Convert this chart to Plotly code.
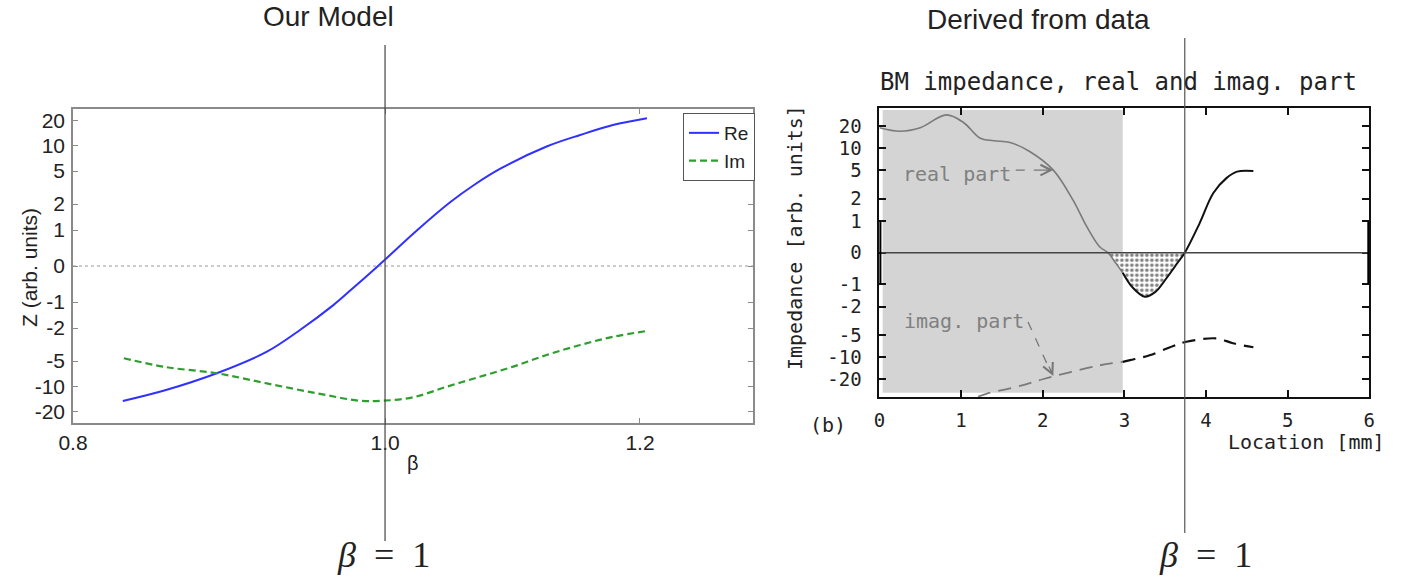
import numpy as np
import plotly.graph_objects as go

# ---------------- data: left panel "Our Model" ----------------
beta_re = [0.829, 0.855, 0.8866, 0.919, 0.941, 0.9637, 0.9758, 0.995, 1.0234, 1.0481,
           1.0657, 1.0863, 1.1225, 1.1497, 1.177, 1.206]
z_re = [-15.8, -11.4, -7.4, -4.15, -2.18, -1.12, -0.67, 0.0, 1.0, 2.2,
        3.73, 5.5, 9.8, 14.2, 18.2, 20.9]
beta_im = [0.8296, 0.855, 0.8866, 0.919, 0.9523, 0.9823, 0.9988, 1.0205, 1.045, 1.070,
           1.096, 1.1225, 1.1497, 1.177, 1.206]
z_im = [-4.75, -6.2, -7.4, -9.4, -12.7, -15.7, -15.7, -14.3, -10.1, -8.1,
        -6.1, -4.45, -3.55, -2.8, -2.27]

# ---------------- data: right panel "Derived from data" ----------------
loc_re = [0.00, 0.25, 0.50, 0.82, 1.03, 1.23, 1.40, 1.60, 1.84, 2.13, 2.37, 2.54, 2.70,
          2.80, 2.90, 2.98, 3.10, 3.25, 3.38, 3.52, 3.65, 3.74, 3.92, 4.09, 4.25, 4.38, 4.58]
imp_re = [19.3, 17.7, 19.3, 25.2, 21.7, 14.6, 13.3, 12.5, 9.2, 5.0, 1.95, 0.83, 0.18,
          0.0, -0.35, -0.64, -1.15, -1.56, -1.35, -0.80, -0.33, 0.0, 0.93, 2.6, 4.16, 4.84, 4.9]
loc_im = [1.21, 1.31, 1.72, 2.01, 2.33, 2.70, 2.98, 3.07, 3.31, 3.60, 3.76, 4.13, 4.33, 4.58]
imp_im = [-28.0, -26.7, -23.1, -19.9, -16.8, -13.6, -12.0, -11.2, -9.5, -7.4, -6.46, -5.7, -6.8, -7.7]

z_ticks = [-20, -10, -5, -2, -1, 0, 1, 2, 5, 10, 20]
z_tick_text = [str(v) for v in z_ticks]
beta_ticks = [0.8, 1.0, 1.2]
beta_tick_text = ["0.8", "1.0", "1.2"]
beta_range = [0.8, 1.301]
loc_ticks = [0, 1, 2, 3, 4, 5, 6]
loc_tick_text = [str(v) for v in loc_ticks]
beta_one = 1.0
beta_one_location = 3.74     # mm, where beta = 1 in the data panel
shaded_limit = 2.98          # mm, end of grey shaded region

# compressed (pseudo-log) impedance axis
_ABS = [0, 1, 2, 5, 10, 20]
_POS = [0, 36, 62, 95, 120.5, 145.5]


def zpos(z):
    z = np.asarray(z, dtype=float)
    a = np.abs(z)
    u = np.interp(a, _ABS, _POS)
    u = np.where(a > 20, 145.5 + (a - 20) * 2.5, u)
    return np.sign(z) * u


W, H = 1406, 582


def px(x):
    return x / W


def py(y):
    return 1 - y / H


SANS = "Arial, Liberation Sans, sans-serif"
MONO = "DejaVu Sans Mono, Liberation Mono, monospace"
SERIF = "Liberation Serif, DejaVu Serif, serif"

L_X0, L_X1 = px(73), px(753)

fig = go.Figure()

# ---- left panel traces ----
fig.add_trace(go.Scatter(x=beta_re, y=zpos(z_re), mode="lines", name="Re",
                         line=dict(color="#3030ff", width=2, shape="spline"),
                         xaxis="x", yaxis="y"))
fig.add_trace(go.Scatter(x=beta_im, y=zpos(z_im), mode="lines", name="Im",
                         line=dict(color="#2e9e2e", width=2.2, dash="7px,4px", shape="spline"),
                         xaxis="x", yaxis="y"))

# ---- right panel traces ----
lr = np.array(loc_re)
ir = np.array(imp_re)
li = np.array(loc_im)
ii = np.array(imp_im)

neg = (lr >= 2.80) & (lr <= beta_one_location)
fig.add_trace(go.Scatter(x=lr[neg], y=zpos(ir[neg]), mode="lines", fill="tozeroy",
                         line=dict(width=0, shape="spline"), fillcolor="white",
                         fillpattern=dict(shape=".", fgcolor="black", bgcolor="white",
                                          size=5, solidity=0.4),
                         showlegend=False, hoverinfo="skip", xaxis="x2", yaxis="y2"))
g = lr <= shaded_limit
b = lr >= shaded_limit
fig.add_trace(go.Scatter(x=lr[g], y=zpos(ir[g]), mode="lines",
                         line=dict(color="#7a7a7a", width=1.6, shape="spline"),
                         showlegend=False, xaxis="x2", yaxis="y2"))
fig.add_trace(go.Scatter(x=lr[b], y=zpos(ir[b]), mode="lines",
                         line=dict(color="#111111", width=2, shape="spline"),
                         showlegend=False, xaxis="x2", yaxis="y2"))
g = li <= shaded_limit
b = li >= shaded_limit
fig.add_trace(go.Scatter(x=li[g], y=zpos(ii[g]), mode="lines",
                         line=dict(color="#7a7a7a", width=1.8, dash="13px,8px", shape="spline"),
                         showlegend=False, xaxis="x2", yaxis="y2"))
fig.add_trace(go.Scatter(x=li[b], y=zpos(ii[b]), mode="lines",
                         line=dict(color="#111111", width=2.2, dash="13px,8px", shape="spline"),
                         showlegend=False, xaxis="x2", yaxis="y2"))

left_axis = dict(showline=True, linecolor="#8a8a8a", linewidth=1.5, mirror="ticks",
                 ticks="inside", ticklen=5, tickcolor="#8a8a8a", showgrid=False,
                 zeroline=False, automargin=False,
                 tickfont=dict(family=SANS, size=21, color="#222"))
right_axis = dict(showline=True, linecolor="#111", linewidth=2, mirror="ticks",
                  ticks="inside", ticklen=7, tickcolor="#111", tickwidth=1.5, showgrid=False,
                  zeroline=False, automargin=False,
                  tickfont=dict(family=MONO, size=19, color="#222"))

fig.update_layout(
    width=W, height=H, margin=dict(l=0, r=0, t=0, b=0, autoexpand=False),
    paper_bgcolor="white", plot_bgcolor="white",
    xaxis=dict(domain=[L_X0, L_X1], type="log",
               range=[np.log10(beta_range[0]), np.log10(beta_range[1])], tickvals=beta_ticks,
               ticktext=beta_tick_text, anchor="y", **left_axis),
    yaxis=dict(domain=[py(423), py(109)], range=[-157, 157], tickvals=zpos(z_ticks),
               ticktext=z_tick_text, anchor="x", ticklabelstandoff=2, **left_axis),
    xaxis2=dict(domain=[px(879.4), px(1369.3)], range=[0, 6], tickvals=loc_ticks,
                ticktext=loc_tick_text, anchor="y2", ticklabelstandoff=5, **right_axis),
    yaxis2=dict(domain=[py(397.3), py(107.7)], range=[-166.3, 166.75],
                tickvals=zpos(z_ticks), ticktext=z_tick_text, anchor="x2",
                ticklabelstandoff=12, **right_axis),
    legend=dict(x=px(683), y=py(113), xanchor="left", yanchor="top",
                bgcolor="white", bordercolor="#555", borderwidth=1,
                font=dict(family=SANS, size=19, color="#222"), itemwidth=30,
                tracegroupgap=0),
    showlegend=True,
)

# paper x of beta = 1 on the log axis
lo, hi = np.log10(beta_range[0]), np.log10(beta_range[1])
beta_one_paper = L_X0 + (np.log10(beta_one) - lo) / (hi - lo) * (L_X1 - L_X0)

shapes = []
# left zero dotted line
shapes.append(dict(type="line", xref="x domain", yref="y", x0=0, x1=1, y0=0, y1=0,
                   line=dict(color="#999", width=1, dash="dot")))
# right: grey shaded region
shapes.append(dict(type="rect", xref="x2", yref="y2", x0=0.04, x1=shaded_limit,
                   y0=-161, y1=164, fillcolor="#d4d4d4", line=dict(width=0), layer="below"))
# right zero line
shapes.append(dict(type="line", xref="x2", yref="y2", x0=0, x1=6, y0=0, y1=0,
                   line=dict(color="#444", width=1.5)))
# thick bars between -1 and 1 on both sides
for xv in (0, 6):
    shapes.append(dict(type="line", xref="x2", yref="y2", x0=xv, x1=xv,
                       y0=float(zpos(-1)), y1=float(zpos(1)),
                       line=dict(color="#000", width=4)))
# beta = 1 vertical lines
shapes.append(dict(type="line", xref="paper", yref="paper", x0=beta_one_paper,
                   x1=beta_one_paper, y0=py(541), y1=py(45),
                   line=dict(color="#444", width=1.2)))
shapes.append(dict(type="line", xref="x2", yref="paper", x0=beta_one_location,
                   x1=beta_one_location, y0=py(533), y1=py(38),
                   line=dict(color="#555", width=1.2)))
# dashed arrow shafts
shapes.append(dict(type="line", xref="x2", yref="y2", x0=1.67, x1=2.08,
                   y0=float(zpos(5)), y1=float(zpos(5)),
                   line=dict(color="#777", width=1.3, dash="dash")))
shapes.append(dict(type="line", xref="x2", yref="y2", x0=1.82, x1=2.09,
                   y0=float(zpos(-3.6)), y1=float(zpos(-16)),
                   line=dict(color="#777", width=1.3, dash="dash")))
fig.update_layout(shapes=shapes)

ann = []


def text(x, y, s, size, family=SANS, color="#222", angle=0):
    ann.append(dict(xref="paper", yref="paper", x=px(x), y=py(y), text=s,
                    showarrow=False, xanchor="center", yanchor="middle", textangle=angle,
                    font=dict(family=family, size=size, color=color)))


text(328, 16, "Our Model", 28)
text(1038, 20, "Derived from data", 28)
text(30, 267, "Z (arb. units)", 21, angle=-90)
text(413, 463, "β", 20)
text(1118, 82, "BM impedance, real and imag. part", 24, family=MONO, color="#222")
text(795, 238, "Impedance [arb. units]", 20, family=MONO, angle=-90)
text(1306, 442, "Location [mm]", 20, family=MONO)
text(828, 425, "(b)", 20, family=MONO)
text(957, 174, "real part", 20, family=MONO, color="#808080")
text(964, 321, "imag. part", 20, family=MONO, color="#808080")
text(383, 555, "<i>β</i>&nbsp;&nbsp;=&nbsp;&nbsp;1", 36, family=SERIF, color="#222")
text(1205, 555, "<i>β</i>&nbsp;&nbsp;=&nbsp;&nbsp;1", 36, family=SERIF, color="#222")

# arrow heads
ann.append(dict(xref="x2", yref="y2", x=2.13, y=float(zpos(5)), ax=-12, ay=0, text="",
                showarrow=True, arrowhead=5, arrowsize=1.6, arrowwidth=1.3, arrowcolor="#777"))
ann.append(dict(xref="x2", yref="y2", x=2.13, y=float(zpos(-18.5)), ax=-5, ay=-11, text="",
                showarrow=True, arrowhead=5, arrowsize=1.6, arrowwidth=1.3, arrowcolor="#777"))
fig.update_layout(annotations=ann)

fig.write_html("out.html")
